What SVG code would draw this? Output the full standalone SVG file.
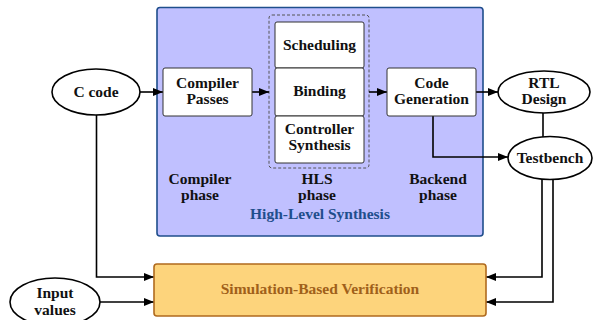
<svg xmlns="http://www.w3.org/2000/svg" width="595" height="320" viewBox="0 0 595 320">
<style>
text{font-family:'Liberation Serif','DejaVu Serif',serif;font-weight:bold;font-size:15.5px;fill:#111;text-anchor:middle}
.box{fill:#fff;stroke:#333;stroke-width:1}
.ell{fill:#fff;stroke:#000;stroke-width:1.6}
.con{fill:none;stroke:#000;stroke-width:1.6}
</style>
<defs>
<marker id="ah" viewBox="0 0 10 10" refX="10" refY="5" markerWidth="10" markerHeight="10" markerUnits="userSpaceOnUse" orient="auto">
<path d="M0,1 L10,5 L0,9 Z" fill="#000"/>
</marker>
</defs>
<g id="hls-area">
<rect x="157" y="7.5" width="326" height="228.5" rx="3" fill="#c0c0ff" stroke="#1f4e8c" stroke-width="1.6"/>
<rect x="269" y="15" width="100" height="153" rx="3" fill="none" stroke="#555" stroke-width="1" stroke-dasharray="3,2"/>
<text x="200" y="184">Compiler</text><text x="200" y="200">phase</text>
<text x="317" y="184">HLS</text><text x="317" y="200">phase</text>
<text x="438" y="184">Backend</text><text x="438" y="200">phase</text>
<text x="320" y="219" style="fill:#1f4e8c">High-Level Synthesis</text>
</g>
<g id="connectors">
<line class="con" x1="140" y1="92" x2="163" y2="92" marker-end="url(#ah)"/>
<line class="con" x1="252" y1="92" x2="269" y2="92" marker-end="url(#ah)"/>
<line class="con" x1="369" y1="92" x2="387" y2="92" marker-end="url(#ah)"/>
<line class="con" x1="476" y1="92" x2="498" y2="92" marker-end="url(#ah)"/>
<polyline class="con" points="433,116 433,157 508,157" marker-end="url(#ah)"/>
<line class="con" x1="543" y1="112" x2="543" y2="138"/>
<polyline class="con" points="542,178 542,277 486,277" marker-end="url(#ah)"/>
<polyline class="con" points="553,178 553,302 486,302" marker-end="url(#ah)"/>
<polyline class="con" points="96.5,114 96.5,277 154,277" marker-end="url(#ah)"/>
<line class="con" x1="100" y1="302" x2="154" y2="302" marker-end="url(#ah)"/>
</g>
<g id="c-code"><ellipse class="ell" cx="96" cy="92" rx="44" ry="23"/><text x="96" y="97">C code</text></g>
<g id="compiler-passes"><rect class="box" x="163" y="68" width="89" height="48" rx="2"/><text x="207.5" y="88">Compiler</text><text x="207.5" y="104">Passes</text></g>
<g id="scheduling"><rect class="box" x="275" y="22" width="89" height="46" rx="2"/><text x="319.5" y="50">Scheduling</text></g>
<g id="binding"><rect class="box" x="275" y="68" width="89" height="48" rx="2"/><text x="319.5" y="96">Binding</text></g>
<g id="controller-synthesis"><rect class="box" x="275" y="116" width="89" height="47" rx="2"/><text x="319.5" y="134">Controller</text><text x="319.5" y="150">Synthesis</text></g>
<g id="code-generation"><rect class="box" x="387" y="68" width="89" height="48" rx="2"/><text x="431.5" y="88">Code</text><text x="431.5" y="104">Generation</text></g>
<g id="rtl-design"><ellipse class="ell" cx="544" cy="92" rx="46" ry="21"/><text x="544" y="88">RTL</text><text x="544" y="104">Design</text></g>
<g id="testbench"><ellipse class="ell" cx="550" cy="158" rx="42" ry="21.5"/><text x="550" y="163">Testbench</text></g>
<g id="simulation"><rect x="154" y="264" width="332" height="52" rx="3" fill="#fdd47c" stroke="#b06a1e" stroke-width="1.6"/><text x="320" y="294" style="fill:#a0601a">Simulation-Based Verification</text></g>
<g id="input-values"><ellipse class="ell" cx="55" cy="302" rx="45" ry="24"/><text x="55" y="298">Input</text><text x="55" y="315">values</text></g>
</svg>
